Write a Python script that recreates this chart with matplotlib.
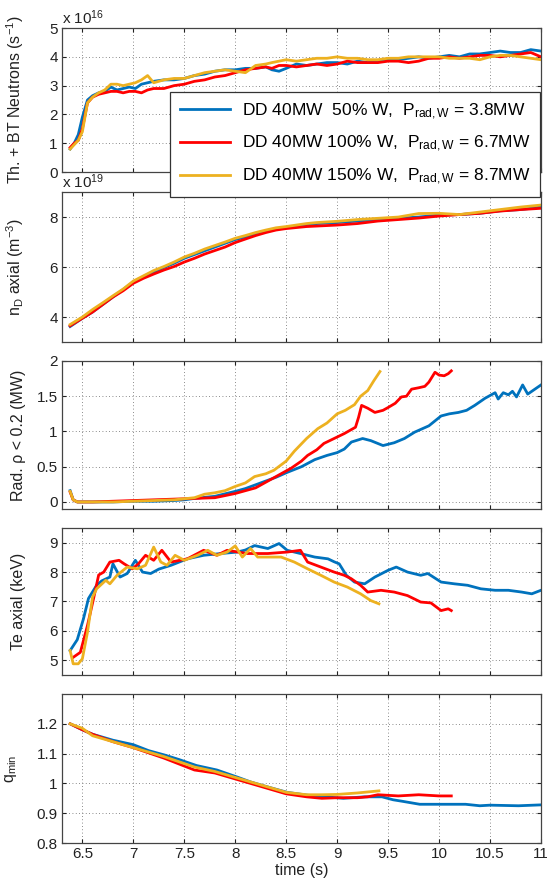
import matplotlib
matplotlib.use("Agg")
import matplotlib.pyplot as plt

plt.rcParams['font.family'] = ['Liberation Sans', 'DejaVu Sans']
plt.rcParams['mathtext.fontset'] = 'custom'
plt.rcParams['mathtext.rm'] = 'Liberation Sans'
plt.rcParams['mathtext.it'] = 'Liberation Sans'

BLUE = '#0072BD'
RED = '#FF0000'
YELLOW = '#EDB120'

labels = ['DD 40MW  50% W,  P$_{\\mathrm{rad,W}}$ = 3.8MW',
          'DD 40MW 100% W,  P$_{\\mathrm{rad,W}}$ = 6.7MW',
          'DD 40MW 150% W,  P$_{\\mathrm{rad,W}}$ = 8.7MW']

# panel 1: neutrons (x 1e16 s^-1)
t1 = [6.38, 6.42, 6.46, 6.50, 6.55, 6.60, 6.66, 6.72, 6.78, 6.84,
      6.90, 6.96, 7.02, 7.08, 7.14, 7.20, 7.30, 7.40, 7.50, 7.60,
      7.70, 7.80, 7.90, 8.00, 8.10, 8.20, 8.30, 8.36, 8.43, 8.50,
      8.60, 8.70, 8.80, 8.90, 9.00, 9.10, 9.20, 9.30, 9.40, 9.50,
      9.60, 9.70, 9.80, 9.90, 10.0, 10.1, 10.2, 10.3, 10.4, 10.5,
      10.6, 10.7, 10.8, 10.9, 11.0]
neut_b = [0.8, 1.0, 1.3, 1.9, 2.5, 2.65, 2.75, 2.8, 2.95, 2.85,
          2.9, 2.95, 2.9, 3.05, 3.1, 3.15, 3.2, 3.2, 3.25, 3.35,
          3.4, 3.5, 3.55, 3.55, 3.6, 3.6, 3.65, 3.55, 3.5, 3.6,
          3.75, 3.7, 3.75, 3.8, 3.8, 3.75, 3.85, 3.8, 3.85, 3.9,
          3.9, 3.95, 4.0, 3.95, 4.0, 4.05, 4.0, 4.1, 4.1, 4.15,
          4.2, 4.15, 4.15, 4.25, 4.2]
neut_r = [0.85, 1.0, 1.1, 1.5, 2.4, 2.6, 2.7, 2.75, 2.8, 2.8,
          2.75, 2.8, 2.8, 2.75, 2.85, 2.9, 2.9, 3.0, 3.05, 3.15,
          3.2, 3.3, 3.35, 3.45, 3.55, 3.6, 3.65, 3.6, 3.7, 3.7,
          3.65, 3.7, 3.75, 3.7, 3.75, 3.85, 3.8, 3.8, 3.8, 3.85,
          3.85, 3.8, 3.85, 3.95, 3.95, 4.0, 3.95, 4.0, 4.05, 4.05,
          4.0, 4.05, 4.1, 4.15, 4.0]
neut_y = [0.8, 0.95, 1.1, 1.4, 2.4, 2.6, 2.75, 2.85, 3.05, 3.05,
          3.0, 3.05, 3.1, 3.2, 3.35, 3.1, 3.2, 3.25, 3.25, 3.35,
          3.45, 3.5, 3.55, 3.5, 3.45, 3.7, 3.75, 3.8, 3.85, 3.9,
          3.85, 3.9, 3.95, 3.95, 4.0, 3.95, 3.95, 3.9, 3.9, 3.95,
          3.95, 4.0, 4.0, 4.0, 4.0, 3.95, 3.95, 3.95, 3.9, 4.0,
          4.05, 4.05, 4.0, 3.95, 3.9]

# panel 2: axial density (x 1e19 m^-3)
t2 = [6.38, 6.5, 6.6, 6.7, 6.8, 6.9, 7.0, 7.1, 7.2, 7.3,
      7.4, 7.5, 7.6, 7.7, 7.8, 7.9, 8.0, 8.1, 8.2, 8.3,
      8.4, 8.5, 8.6, 8.7, 8.8, 9.0, 9.2, 9.4, 9.6, 9.8,
      10.0, 10.2, 10.4, 10.6, 10.8, 11.0]
nd_b = [3.62, 3.95, 4.2, 4.5, 4.8, 5.1, 5.4, 5.6, 5.8, 5.98,
        6.15, 6.35, 6.5, 6.65, 6.8, 6.95, 7.1, 7.2, 7.3, 7.42,
        7.52, 7.58, 7.64, 7.7, 7.74, 7.78, 7.84, 7.9, 7.95, 8.0,
        8.08, 8.1, 8.15, 8.25, 8.3, 8.4]
nd_r = [3.65, 3.95, 4.2, 4.5, 4.8, 5.05, 5.35, 5.55, 5.72, 5.88,
        6.02, 6.2, 6.35, 6.52, 6.66, 6.8, 6.98, 7.12, 7.26, 7.38,
        7.48, 7.54, 7.58, 7.62, 7.64, 7.68, 7.74, 7.84, 7.9, 7.96,
        8.04, 8.1, 8.15, 8.24, 8.3, 8.35]
nd_y = [3.7, 4.0, 4.3, 4.57, 4.85, 5.12, 5.44, 5.65, 5.86, 6.02,
        6.2, 6.4, 6.55, 6.72, 6.86, 7.0, 7.15, 7.26, 7.38, 7.48,
        7.57, 7.62, 7.68, 7.74, 7.78, 7.83, 7.9, 7.95, 8.0, 8.14,
        8.15, 8.1, 8.2, 8.3, 8.4, 8.48]

# panel 3: radiated power rho < 0.2 (MW)
t3_b = [6.38, 6.41, 6.45, 6.6, 6.8, 7.0, 7.2, 7.4, 7.5, 7.6,
        7.8, 8.0, 8.1, 8.25, 8.4, 8.51, 8.65, 8.78, 8.9, 9.0,
        9.07, 9.14, 9.25, 9.33, 9.45, 9.56, 9.66, 9.76, 9.9, 10.02,
        10.1, 10.19, 10.27, 10.35, 10.45, 10.55, 10.58, 10.63, 10.68, 10.72,
        10.76, 10.82, 10.87, 10.94, 11.0]
rad_b = [0.16, 0.03, 0.0, 0.0, 0.0, 0.01, 0.01, 0.02, 0.03, 0.05,
         0.08, 0.15, 0.19, 0.27, 0.35, 0.42, 0.5, 0.6, 0.66, 0.7,
         0.75, 0.85, 0.9, 0.87, 0.8, 0.84, 0.9, 0.99, 1.08, 1.22,
         1.25, 1.27, 1.3, 1.37, 1.47, 1.55, 1.46, 1.55, 1.52, 1.57,
         1.49, 1.66, 1.53, 1.6, 1.66]
t3_r = [6.38, 6.41, 6.45, 6.6, 6.8, 7.0, 7.2, 7.4, 7.6, 7.8,
        8.0, 8.2, 8.4, 8.55, 8.65, 8.71, 8.8, 8.87, 8.97, 9.07,
        9.18, 9.21, 9.24, 9.3, 9.37, 9.45, 9.5, 9.57, 9.63, 9.68,
        9.73, 9.8, 9.86, 9.9, 9.96, 10.0, 10.05, 10.09, 10.12]
rad_r = [0.14, 0.03, 0.0, 0.0, 0.01, 0.02, 0.03, 0.04, 0.05, 0.06,
         0.12, 0.2, 0.36, 0.48, 0.58, 0.66, 0.74, 0.83, 0.9, 0.97,
         1.06, 1.2, 1.37, 1.33, 1.27, 1.3, 1.34, 1.4, 1.49, 1.5,
         1.6, 1.62, 1.64, 1.7, 1.84, 1.8, 1.79, 1.82, 1.86]
t3_y = [6.38, 6.41, 6.45, 6.6, 6.8, 7.0, 7.2, 7.4, 7.6, 7.7,
        7.8, 7.9, 8.0, 8.1, 8.19, 8.3, 8.38, 8.5, 8.58, 8.7,
        8.81, 8.9, 9.0, 9.08, 9.17, 9.23, 9.3, 9.36, 9.42]
rad_y = [0.15, 0.03, 0.0, 0.0, 0.0, 0.01, 0.02, 0.03, 0.06, 0.11,
         0.13, 0.16, 0.22, 0.27, 0.36, 0.4, 0.45, 0.58, 0.72, 0.9,
         1.04, 1.12, 1.25, 1.3, 1.38, 1.5, 1.58, 1.72, 1.85]

# panel 4: axial Te (keV)
t4_b = [6.38, 6.45, 6.51, 6.56, 6.64, 6.69, 6.77, 6.8, 6.87, 6.94,
        7.02, 7.09, 7.17, 7.25, 7.37, 7.53, 7.69, 7.86, 8.02, 8.1,
        8.19, 8.32, 8.43, 8.51, 8.64, 8.78, 8.91, 8.97, 9.02, 9.09,
        9.17, 9.27, 9.37, 9.5, 9.58, 9.69, 9.82, 9.89, 10.02, 10.15,
        10.28, 10.41, 10.55, 10.68, 10.81, 10.91, 11.0]
te_b = [5.33, 5.7, 6.4, 7.1, 7.55, 7.7, 7.83, 8.28, 7.83, 7.95,
        8.4, 8.0, 7.95, 8.1, 8.23, 8.45, 8.57, 8.63, 8.68, 8.75,
        8.9, 8.8, 8.97, 8.74, 8.63, 8.51, 8.45, 8.35, 8.28, 7.89,
        7.66, 7.6, 7.83, 8.06, 8.17, 8.0, 7.89, 7.95, 7.66, 7.6,
        7.55, 7.43, 7.38, 7.38, 7.32, 7.26, 7.38]
t4_r = [6.41, 6.48, 6.55, 6.61, 6.66, 6.71, 6.77, 6.86, 6.91, 6.99,
        7.05, 7.12, 7.2, 7.28, 7.37, 7.53, 7.69, 7.82, 7.92, 8.12,
        8.32, 8.51, 8.64, 8.71, 8.84, 8.97, 9.07, 9.14, 9.23, 9.3,
        9.43, 9.56, 9.69, 9.82, 9.92, 10.02, 10.09, 10.12]
te_r = [5.1, 5.27, 6.18, 7.1, 7.9, 8.0, 8.34, 8.4, 8.28, 8.11,
        8.28, 8.57, 8.4, 8.74, 8.34, 8.45, 8.74, 8.57, 8.74, 8.63,
        8.63, 8.68, 8.74, 8.34, 8.17, 8.0, 7.89, 7.77, 7.55, 7.32,
        7.38, 7.32, 7.2, 6.98, 6.95, 6.69, 6.75, 6.69]
t4_y = [6.38, 6.41, 6.46, 6.5, 6.55, 6.6, 6.64, 6.73, 6.77, 6.84,
        6.94, 7.04, 7.12, 7.2, 7.27, 7.33, 7.41, 7.5, 7.63, 7.73,
        7.82, 7.92, 8.0, 8.07, 8.15, 8.22, 8.32, 8.45, 8.58, 8.71,
        8.84, 8.97, 9.1, 9.23, 9.33, 9.41]
te_y = [5.33, 4.88, 4.88, 5.05, 5.95, 7.15, 7.43, 7.72, 7.6, 7.89,
        8.17, 8.11, 8.23, 8.85, 8.34, 8.23, 8.57, 8.4, 8.57, 8.74,
        8.57, 8.68, 8.89, 8.51, 8.8, 8.51, 8.51, 8.51, 8.34, 8.11,
        7.89, 7.66, 7.49, 7.26, 7.03, 6.92]

# panel 5: q_min
t5_b = [6.38, 6.5, 6.6, 6.8, 7.0, 7.15, 7.31, 7.45, 7.62, 7.82,
        8.03, 8.15, 8.3, 8.51, 8.72, 8.89, 9.06, 9.27, 9.44, 9.55,
        9.64, 9.81, 10.02, 10.26, 10.4, 10.5, 10.78, 11.0]
q_b = [1.2, 1.18, 1.165, 1.145, 1.13, 1.11, 1.095, 1.08, 1.06, 1.045,
       1.02, 1.005, 0.99, 0.97, 0.96, 0.955, 0.95, 0.955, 0.955, 0.945,
       0.94, 0.93, 0.93, 0.93, 0.925, 0.927, 0.925, 0.928]
t5_r = [6.38, 6.5, 6.6, 6.8, 7.0, 7.3, 7.6, 7.8, 8.0, 8.3,
        8.5, 8.7, 8.85, 9.0, 9.2, 9.3, 9.4, 9.5, 9.6, 9.8,
        10.0, 10.12]
q_r = [1.2, 1.18, 1.165, 1.14, 1.12, 1.085, 1.045, 1.035, 1.015, 0.985,
       0.965, 0.955, 0.95, 0.952, 0.952, 0.955, 0.962, 0.96, 0.958, 0.962,
       0.958, 0.958]
t5_y = [6.38, 6.5, 6.6, 6.8, 7.0, 7.3, 7.6, 7.8, 8.0, 8.3,
        8.5, 8.7, 8.85, 9.0, 9.2, 9.41]
q_y = [1.2, 1.185, 1.16, 1.14, 1.12, 1.09, 1.055, 1.04, 1.02, 0.99,
       0.97, 0.962, 0.962, 0.963, 0.968, 0.975]

xticks = [6.5, 7, 7.5, 8, 8.5, 9, 9.5, 10, 10.5, 11]
xticklabels = ['6.5', '7', '7.5', '8', '8.5', '9', '9.5', '10', '10.5', '11']


def setupAxis(ax, ylim, yticks, yticklabels, ylabel):
    ax.set_xlim(6.3, 11)
    ax.set_ylim(*ylim)
    ax.set_xticks(xticks)
    ax.set_yticks(yticks)
    ax.set_yticklabels(yticklabels)
    ax.grid(True, linestyle=(0, (1, 3)), color='#666666', linewidth=0.6)
    ax.tick_params(direction='in', top=True, right=True, length=3,
                   labelsize=11, colors='#222222', pad=3)
    for side in ax.spines.values():
        side.set_color('#444444')
        side.set_linewidth(0.9)
    ax.set_ylabel(ylabel, fontsize=11.5, color='#222222')


fig = plt.figure(figsize=(5.47, 8.9), dpi=100)
left, width = 0.1133, 0.8757
ax1 = fig.add_axes([left, 0.8067, width, 0.1618])
ax2 = fig.add_axes([left, 0.6157, width, 0.1685])
ax3 = fig.add_axes([left, 0.4281, width, 0.1663])
ax4 = fig.add_axes([left, 0.2416, width, 0.1652])
ax5 = fig.add_axes([left, 0.0528, width, 0.1674])

lw = 2.0
l1, = ax1.plot(t1, neut_b, color=BLUE, lw=lw)
l2, = ax1.plot(t1, neut_r, color=RED, lw=lw)
l3, = ax1.plot(t1, neut_y, color=YELLOW, lw=lw)

ax2.plot(t2, nd_b, color=BLUE, lw=lw)
ax2.plot(t2, nd_r, color=RED, lw=lw)
ax2.plot(t2, nd_y, color=YELLOW, lw=lw)

ax3.plot(t3_b, rad_b, color=BLUE, lw=lw)
ax3.plot(t3_r, rad_r, color=RED, lw=lw)
ax3.plot(t3_y, rad_y, color=YELLOW, lw=lw)

ax4.plot(t4_b, te_b, color=BLUE, lw=lw)
ax4.plot(t4_r, te_r, color=RED, lw=lw)
ax4.plot(t4_y, te_y, color=YELLOW, lw=lw)

ax5.plot(t5_b, q_b, color=BLUE, lw=lw)
ax5.plot(t5_r, q_r, color=RED, lw=lw)
ax5.plot(t5_y, q_y, color=YELLOW, lw=lw)

setupAxis(ax1, (0, 5), [0, 1, 2, 3, 4, 5], ['0', '1', '2', '3', '4', '5'],
          'Th. + BT Neutrons (s$^{-1}$)')
setupAxis(ax2, (3, 9), [4, 6, 8], ['4', '6', '8'], 'n$_D$ axial (m$^{-3}$)')
setupAxis(ax3, (-0.1, 2), [0, 0.5, 1, 1.5, 2], ['0', '0.5', '1', '1.5', '2'],
          'Rad. ρ < 0.2 (MW)')
setupAxis(ax4, (4.5, 9.5), [5, 6, 7, 8, 9], ['5', '6', '7', '8', '9'],
          'Te axial (keV)')
setupAxis(ax5, (0.8, 1.3), [0.8, 0.9, 1.0, 1.1, 1.2],
          ['0.8', '0.9', '1', '1.1', '1.2'], 'q$_{min}$')

for ax in [ax1, ax2, ax3, ax4]:
    ax.set_xticklabels([])
ax5.set_xticklabels(xticklabels)
ax5.set_xlabel('time (s)', fontsize=11.5, color='#222222', labelpad=1)

ax1.text(0.0, 1.01, 'x 10$^{16}$', transform=ax1.transAxes, fontsize=11,
         ha='left', va='bottom', color='#222222')
ax2.text(0.0, 1.01, 'x 10$^{19}$', transform=ax2.transAxes, fontsize=11,
         ha='left', va='bottom', color='#222222')

for ax, xpos in zip([ax1, ax2, ax3, ax4, ax5], [-0.075, -0.075, -0.075, -0.075, -0.09]):
    ax.yaxis.set_label_coords(xpos, 0.5)

leg = fig.legend([l1, l2, l3], labels, loc='upper right',
                 bbox_to_anchor=(0.988, 0.897), borderaxespad=0,
                 fontsize=12.5, handlelength=2.9, labelspacing=0.72,
                 borderpad=0.55, handletextpad=0.7,
                 fancybox=False, framealpha=1, edgecolor='#333333')
leg.get_frame().set_linewidth(0.9)

fig.savefig('out.png', dpi=100)
